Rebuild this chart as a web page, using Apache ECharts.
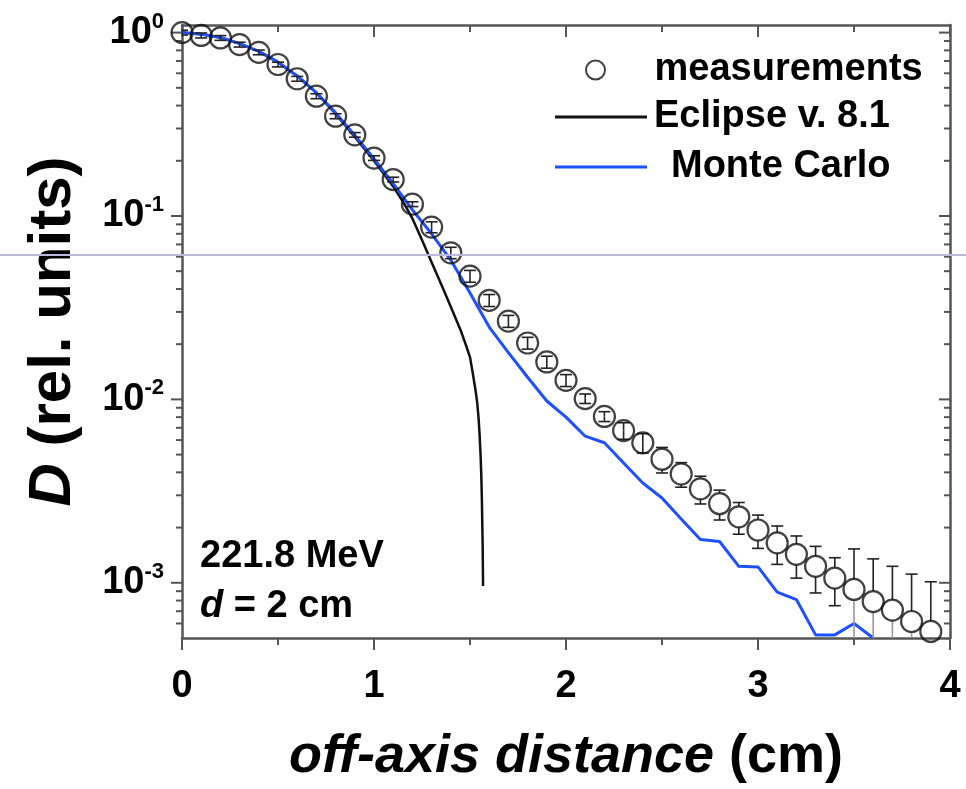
<!DOCTYPE html>
<html><head><meta charset="utf-8">
<script src="https://cdn.jsdelivr.net/npm/echarts@6/dist/echarts.min.js"></script>
<style>html,body{margin:0;padding:0;background:#fff}#c{width:966px;height:789px}</style>
</head><body><div id="c"></div>
<script>
// ---- data ----
const measX = [0,0.1,0.2,0.3,0.4,0.5,0.6,0.7,0.8,0.9,1.0,1.1,1.2,1.3,1.4,1.5,1.6,1.7,1.8,1.9,2.0,2.1,2.2,2.3,2.4,2.5,2.6,2.7,2.8,2.9,3.0,3.1,3.2,3.3,3.4,3.5,3.6,3.7,3.8,3.9];
const measY = [1.0,0.965,0.935,0.86,0.78,0.67,0.56,0.45,0.35,0.277,0.207,0.158,0.116,0.087,0.063,0.047,0.0347,0.0267,0.0203,0.016,0.0127,0.0101,0.00807,0.00676,0.0058,0.00472,0.00392,0.00325,0.0027,0.00229,0.00194,0.00165,0.00143,0.00123,0.00106,0.00092,0.00079,0.00071,0.000615,0.000543];
const measErr = [0.03,0.03,0.028,0.026,0.023,0.02,0.017,0.014,0.011,0.008,0.006,0.0047,0.0035,0.006,0.0045,0.0035,0.0026,0.002,0.0015,0.0012,0.00095,0.0006,0.0005,0.0007,0.0007,0.00075,0.0006,0.00056,0.0005,0.00045,0.0004,0.00039,0.00037,0.00035,0.00031,0.00061,0.00056,0.00052,0.0005,0.00047];

const eclX = [0,0.1,0.2,0.3,0.4,0.5,0.6,0.7,0.8,0.9,1.0,1.1,1.15,1.2,1.25,1.3,1.35,1.4,1.45,1.475,1.5,1.515,1.53,1.538,1.545,1.55,1.555,1.559,1.562,1.564,1.566,1.568];
const eclY = [1.0,0.98,0.94,0.87,0.79,0.69,0.58,0.47,0.36,0.27,0.2,0.145,0.12,0.097,0.074,0.056,0.0425,0.032,0.024,0.0203,0.017,0.0138,0.011,0.0095,0.0078,0.0064,0.005,0.0038,0.0028,0.0021,0.0016,0.00096];

const mcX = [0,0.1,0.2,0.3,0.4,0.5,0.6,0.7,0.8,0.9,1.0,1.1,1.2,1.3,1.4,1.5,1.6,1.7,1.8,1.9,2.0,2.1,2.2,2.3,2.4,2.5,2.6,2.7,2.8,2.9,3.0,3.1,3.2,3.3,3.4,3.5,3.6];
const mcY = [1.0,0.98,0.94,0.87,0.79,0.69,0.58,0.47,0.365,0.275,0.205,0.15,0.108,0.08,0.0575,0.038,0.0248,0.018,0.0132,0.0098,0.008,0.0063,0.0058,0.0045,0.0035,0.0029,0.00223,0.00172,0.00168,0.00123,0.00122,0.00089,0.00081,0.00052,0.00052,0.0006,0.0005];

const xTickValues = [0,1,2,3,4];
const yMajorTicks = [0.001,0.01,0.1,1];
const yMajorExp = ['-3','-2','-1','0'];
const yMinorTicks = [0.0006,0.0007,0.0008,0.0009,0.002,0.003,0.004,0.005,0.006,0.007,0.008,0.009,0.02,0.03,0.04,0.05,0.06,0.07,0.08,0.09,0.2,0.3,0.4,0.5,0.6,0.7,0.8,0.9];

// ---- settings ----
const X_MIN = 0, X_MAX = 4, Y_MIN = 0.0005, Y_MAX = 1.1;
const FONT = '"Liberation Sans", Arial, Helvetica, sans-serif';
const AXIS_COLOR = '#555';

const tickData = yMajorTicks.map(v => [0, v, 1]).concat(yMinorTicks.map(v => [0, v, 0]));

const chart = echarts.init(document.getElementById('c'));
const option = {
  backgroundColor: '#fff',
  animation: false,
  grid: { left: 182, right: 16, top: 25, bottom: 142, containLabel: false },
  xAxis: [{
    type: 'value', min: X_MIN, max: X_MAX, interval: 1, position: 'bottom',
    axisLine: { show: true, onZero: false, lineStyle: { color: AXIS_COLOR, width: 2.5 } },
    axisTick: { show: true, inside: false, length: 12, lineStyle: { color: AXIS_COLOR, width: 2 } },
    minorTick: { show: true, splitNumber: 2, length: 7, lineStyle: { color: AXIS_COLOR, width: 2 } },
    splitLine: { show: false },
    axisLabel: { margin: 30, fontSize: 38, fontWeight: 'bold', color: '#000', fontFamily: FONT,
      formatter: v => xTickValues.indexOf(v) >= 0 ? String(v) : '' },
    name: '{i|off-axis distance} (cm)', nameLocation: 'middle', nameGap: 92,
    nameTextStyle: { fontSize: 54, fontWeight: 'bold', color: '#000', fontFamily: FONT,
      rich: { i: { fontSize: 54, fontWeight: 'bold', fontStyle: 'italic', color: '#000', fontFamily: FONT } } }
  }, {
    type: 'value', min: X_MIN, max: X_MAX, interval: 1, position: 'top',
    axisLine: { show: true, onZero: false, lineStyle: { color: AXIS_COLOR, width: 2.5 } },
    axisTick: { show: true, inside: true, length: 12, lineStyle: { color: AXIS_COLOR, width: 2 } },
    minorTick: { show: true, splitNumber: 2, length: 7, lineStyle: { color: AXIS_COLOR, width: 2 } },
    splitLine: { show: false }, axisLabel: { show: false }
  }],
  yAxis: [{
    type: 'log', logBase: 10, min: Y_MIN, max: Y_MAX, position: 'left',
    axisLine: { show: true, onZero: false, lineStyle: { color: AXIS_COLOR, width: 2.5 } },
    axisTick: { show: false }, splitLine: { show: false },
    axisLabel: { margin: 18, color: '#000', fontFamily: FONT, fontSize: 38, fontWeight: 'bold',
      formatter: v => {
        for (let i = 0; i < yMajorTicks.length; i++) {
          if (Math.abs(v - yMajorTicks[i]) / yMajorTicks[i] < 1e-6) return '10{sup|' + yMajorExp[i] + '}';
        }
        return '';
      },
      rich: { sup: { fontSize: 22, fontWeight: 'bold', color: '#000', fontFamily: FONT, padding: [0, 0, 22, 0] } }
    },
    name: '{i|D} (rel. units)', nameLocation: 'middle', nameGap: 99,
    nameTextStyle: { fontSize: 60, fontWeight: 'bold', color: '#000', fontFamily: FONT,
      rich: { i: { fontSize: 60, fontWeight: 'bold', fontStyle: 'italic', color: '#000', fontFamily: FONT } } }
  }, {
    type: 'log', logBase: 10, min: Y_MIN, max: Y_MAX, position: 'right',
    axisLine: { show: true, onZero: false, lineStyle: { color: AXIS_COLOR, width: 2.5 } },
    axisTick: { show: false }, splitLine: { show: false }, axisLabel: { show: false }
  }],
  legend: [
    { data: ['measurements'], left: 580, top: 46, itemWidth: 92, itemHeight: 19, selectedMode: false,
      textStyle: { fontSize: 38, fontWeight: 'bold', color: '#000', fontFamily: FONT, padding: [0, 0, 0, 8] } },
    { data: [{ name: 'Eclipse v. 8.1', icon: 'rect' }], left: 550, top: 93, itemWidth: 92, itemHeight: 3, selectedMode: false,
      textStyle: { fontSize: 38, fontWeight: 'bold', color: '#000', fontFamily: FONT, padding: [0, 0, 0, 2] } },
    { data: [{ name: 'Monte Carlo', icon: 'rect' }], left: 550, top: 143, itemWidth: 92, itemHeight: 3, selectedMode: false,
      textStyle: { fontSize: 38, fontWeight: 'bold', color: '#000', fontFamily: FONT, padding: [0, 0, 0, 19] } }
  ],
  graphic: [
    { type: 'text', left: 200, top: 538, z: 50,
      style: { text: '221.8 MeV', fontSize: 38, fontWeight: 'bold', fontFamily: FONT, fill: '#000' } },
    { type: 'text', left: 200, top: 588, z: 50,
      style: { text: '{i|d} = 2 cm', fontSize: 38, fontWeight: 'bold', fontFamily: FONT, fill: '#000',
        rich: { i: { fontSize: 38, fontWeight: 'bold', fontStyle: 'italic', fontFamily: FONT, fill: '#000' } } } },
    { type: 'line', z: 100, shape: { x1: 0, y1: 255, x2: 966, y2: 255 }, style: { stroke: '#babadf', lineWidth: 2 } }
  ],
  series: [
    { // y-axis ticks (left outward, right inward)
      type: 'custom', silent: true, clip: false, xAxisIndex: 0, yAxisIndex: 0,
      encode: { x: 0, y: 1 }, data: tickData, z: 3,
      renderItem: (params, api) => {
        const v = api.value(1), major = api.value(2);
        const p = api.coord([X_MIN, v]), q = api.coord([X_MAX, v]);
        const len = major ? 11 : 6;
        const st = { stroke: AXIS_COLOR, lineWidth: 2 };
        return { type: 'group', children: [
          { type: 'line', shape: { x1: p[0] - len, y1: p[1], x2: p[0], y2: p[1] }, style: st },
          { type: 'line', shape: { x1: q[0] - len, y1: q[1], x2: q[0], y2: q[1] }, style: st }
        ] };
      }
    },
    { // error bars
      type: 'custom', silent: true, clip: true, xAxisIndex: 0, yAxisIndex: 0,
      encode: { x: 0, y: 1 }, z: 4,
      data: measX.map((x, i) => [x, measY[i], measErr[i]]),
      renderItem: (params, api) => {
        const x = api.value(0), y = api.value(1), e = api.value(2);
        const c = api.coord([x, y]);
        const top = api.coord([x, y + e])[1];
        const lowV = y - e;
        const clipped = lowV <= Y_MIN;
        const bot = api.coord([x, clipped ? Y_MIN : lowV])[1];
        const r = 10.5, cap = 6;
        const st = { stroke: '#222', lineWidth: 1.6 };
        const ch = [];
        if (c[1] - top > r) ch.push({ type: 'line', shape: { x1: c[0], y1: top, x2: c[0], y2: c[1] - r }, style: st });
        else ch.push({ type: 'line', shape: { x1: c[0], y1: top, x2: c[0], y2: c[1] }, style: st });
        ch.push({ type: 'line', shape: { x1: c[0] - cap, y1: top, x2: c[0] + cap, y2: top }, style: st });
        if (clipped) {
          if (bot - c[1] > r) ch.push({ type: 'line', shape: { x1: c[0], y1: c[1] + r, x2: c[0], y2: bot }, style: { stroke: '#999', lineWidth: 1.6 } });
        } else {
          if (bot - c[1] > r) ch.push({ type: 'line', shape: { x1: c[0], y1: c[1] + r, x2: c[0], y2: bot }, style: st });
          else ch.push({ type: 'line', shape: { x1: c[0], y1: c[1], x2: c[0], y2: bot }, style: st });
          ch.push({ type: 'line', shape: { x1: c[0] - cap, y1: bot, x2: c[0] + cap, y2: bot }, style: st });
        }
        return { type: 'group', children: ch };
      }
    },
    {
      name: 'Eclipse v. 8.1', type: 'line', xAxisIndex: 0, yAxisIndex: 0, symbol: 'none', showSymbol: false,
      smooth: false, z: 2,
      lineStyle: { color: '#111', width: 2.5, join: 'round' }, itemStyle: { color: '#111' },
      data: eclX.map((x, i) => [x, eclY[i]])
    },
    {
      name: 'Monte Carlo', type: 'line', xAxisIndex: 0, yAxisIndex: 0, symbol: 'none', showSymbol: false, z: 2,
      lineStyle: { color: '#1f50ff', width: 3, join: 'round' }, itemStyle: { color: '#1f50ff' },
      data: mcX.map((x, i) => [x, mcY[i]])
    },
    {
      name: 'measurements', type: 'scatter', xAxisIndex: 0, yAxisIndex: 0, symbol: 'circle', symbolSize: 21, z: 5,
      itemStyle: { color: 'rgba(255,255,255,0)', borderColor: '#111', borderWidth: 2.2 },
      data: measX.map((x, i) => [x, measY[i]])
    }
  ]
};
chart.setOption(option);
</script></body></html>
